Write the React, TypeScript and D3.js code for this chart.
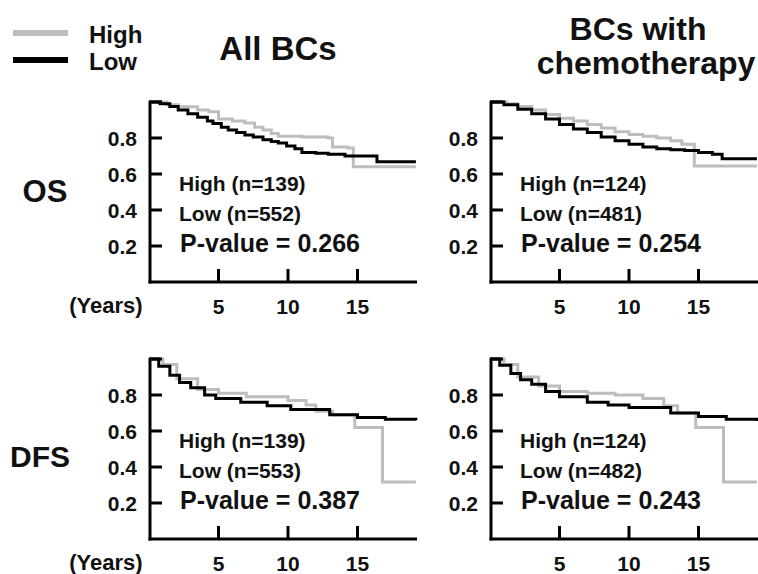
import React from "react";
import * as d3 from "d3";

// ---- data (survival step curves, [years, proportion]) ----
const osAllHigh: [number, number][] = [
  [0, 1], [1.1, 1.0], [1.3, 0.985], [2.1, 0.974], [3.5, 0.955], [4.3, 0.946], [5, 0.905],
  [6, 0.895], [6.9, 0.883], [7.6, 0.86], [8.2, 0.844], [8.8, 0.825], [9.3, 0.81], [11, 0.805],
  [12.9, 0.8], [13.2, 0.75], [14.3, 0.744], [14.7, 0.64], [19.2, 0.64],
];
const osAllLow: [number, number][] = [
  [0, 1], [0.8, 0.99], [1.5, 0.975], [2.1, 0.955], [2.8, 0.935], [3.5, 0.915], [4.2, 0.895],
  [4.6, 0.88], [5.2, 0.86], [5.7, 0.845], [6.3, 0.83], [6.9, 0.817], [7.5, 0.805], [8.2, 0.79],
  [8.8, 0.78], [9.3, 0.772], [9.9, 0.755], [10.5, 0.74], [11, 0.72], [12, 0.715], [12.9, 0.71],
  [14.1, 0.7], [15, 0.7], [16.4, 0.668], [19.2, 0.668],
];
const osChemoHigh: [number, number][] = [
  [0, 1], [1.2, 0.99], [2, 0.975], [3, 0.955], [4, 0.93], [5, 0.91], [6, 0.895], [7, 0.875],
  [8, 0.855], [9, 0.835], [10, 0.82], [11, 0.81], [12, 0.8], [13, 0.785], [13.8, 0.765],
  [14.7, 0.645], [19.2, 0.645],
];
const osChemoLow: [number, number][] = [
  [0, 1], [1, 0.985], [2, 0.96], [3, 0.935], [4, 0.905], [5, 0.875], [6, 0.85], [7, 0.83],
  [8, 0.805], [9, 0.785], [10, 0.765], [11, 0.75], [12, 0.74], [13, 0.735], [14, 0.73],
  [15, 0.72], [16, 0.71], [16.7, 0.685], [19.2, 0.685],
];
const dfsAllHigh: [number, number][] = [
  [0, 1], [1, 0.97], [2, 0.89], [3.5, 0.83], [5, 0.81], [7, 0.79], [10, 0.77], [11.3, 0.745],
  [12, 0.71], [13.2, 0.69], [14.8, 0.62], [16.8, 0.317], [19.2, 0.317],
];
const dfsAllLow: [number, number][] = [
  [0, 1], [0.7, 0.96], [1.5, 0.91], [2.2, 0.87], [3, 0.84], [4, 0.8], [4.8, 0.78], [6.6, 0.76],
  [8.5, 0.74], [10.2, 0.72], [13, 0.69], [15, 0.675], [17, 0.665], [19.2, 0.66],
];
const dfsChemoHigh: [number, number][] = [
  [0, 1], [1, 0.97], [2, 0.9], [3.5, 0.85], [5, 0.82], [7, 0.81], [9, 0.8], [11, 0.78],
  [12.5, 0.74], [13.5, 0.7], [14.8, 0.62], [16.8, 0.317], [19.2, 0.317],
];
const dfsChemoLow: [number, number][] = [
  [0, 1], [0.7, 0.965], [1.5, 0.92], [2.2, 0.885], [3, 0.86], [4, 0.82], [5, 0.79], [7, 0.76],
  [8.5, 0.745], [10, 0.73], [13, 0.7], [15, 0.68], [17, 0.665], [19.2, 0.655],
];

const yearTicks = [5, 10, 15];
const survTicks = [0.2, 0.4, 0.6, 0.8, 1.0];
const survLabels = ["0.2", "0.4", "0.6", "0.8"];
const groupNames = ["High", "Low"];

const panels = [
  { high: osAllHigh, low: osAllLow, nHigh: 139, nLow: 552, p: "0.266", col: 0, row: 0 },
  { high: osChemoHigh, low: osChemoLow, nHigh: 124, nLow: 481, p: "0.254", col: 1, row: 0 },
  { high: dfsAllHigh, low: dfsAllLow, nHigh: 139, nLow: 553, p: "0.387", col: 0, row: 1 },
  { high: dfsChemoHigh, low: dfsChemoLow, nHigh: 124, nLow: 482, p: "0.243", col: 1, row: 1 },
];

const GRAY = "#bdbdbd";
const FONT = "'Liberation Sans', Arial, sans-serif";
const colX0 = [149, 490];
const rowY0 = [282, 539];
const PW = 268;
const PH = 180;

function Panel({ d }: { d: (typeof panels)[number] }) {
  const x0 = colX0[d.col];
  const yb = rowY0[d.row];
  const x = d3.scaleLinear().domain([0, PW / 13.9]).range([x0, x0 + PW]);
  const y = d3.scaleLinear().domain([0, 1]).range([yb, yb - PH]);
  const line = d3
    .line<[number, number]>()
    .x((p) => x(p[0]))
    .y((p) => y(p[1]))
    .curve(d3.curveStepAfter);
  const tx = x0 + 30;
  return (
    <g>
      <path d={line(d.high) || ""} fill="none" stroke={GRAY} strokeWidth={3} />
      <path d={line(d.low) || ""} fill="none" stroke="#000" strokeWidth={3} />
      {/* axes */}
      <line x1={x(0) + 1} x2={x(0) + 1} y1={y(1.0) - 1} y2={yb + 1.5} stroke="#000" strokeWidth={3} />
      <line x1={x(0) - 0.5} x2={x0 + PW} y1={yb} y2={yb} stroke="#000" strokeWidth={3} />
      {survTicks.map((t) => (
        <line key={t} x1={x(0)} x2={x(0) + 13} y1={y(t)} y2={y(t)} stroke="#000" strokeWidth={3} />
      ))}
      {yearTicks.map((t) => (
        <line key={t} x1={x(t)} x2={x(t)} y1={yb} y2={yb - 13} stroke="#000" strokeWidth={3} />
      ))}
      {survLabels.map((s, i) => (
        <text key={s} x={x(0) - 12} y={y(survTicks[i]) + 8} textAnchor="end" fontSize={21} fontWeight="bold">
          {s}
        </text>
      ))}
      {yearTicks.map((t) => (
        <text key={t} x={x(t)} y={yb + 32} textAnchor="middle" fontSize={21} fontWeight="bold">
          {t}
        </text>
      ))}
      <text x={tx} y={yb - 91} fontSize={21} fontWeight="bold">{`${groupNames[0]} (n=${d.nHigh})`}</text>
      <text x={tx} y={yb - 61} fontSize={21} fontWeight="bold">{`${groupNames[1]} (n=${d.nLow})`}</text>
      <text x={tx + 1} y={yb - 30} fontSize={25} fontWeight="bold">{`P-value = ${d.p}`}</text>
    </g>
  );
}

export default function App() {
  return (
    <svg width={758} height={574} style={{ position: "absolute", left: 0, top: 0, background: "#fff" }} fontFamily={FONT} fill="#111">
      {/* legend */}
      <line x1={13} x2={68} y1={33} y2={33} stroke={GRAY} strokeWidth={6} />
      <line x1={13} x2={68} y1={60} y2={60} stroke="#000" strokeWidth={6} />
      <text x={89} y={43} fontSize={24} fontWeight="bold">{groupNames[0]}</text>
      <text x={89} y={70} fontSize={24} fontWeight="bold">{groupNames[1]}</text>
      {/* titles */}
      <text x={278} y={60} textAnchor="middle" fontSize={33} fontWeight="bold">All BCs</text>
      <text x={638} y={40} textAnchor="middle" fontSize={32} fontWeight="bold">BCs with</text>
      <text x={646} y={74} textAnchor="middle" fontSize={32} fontWeight="bold">chemotherapy</text>
      {/* row labels */}
      <text x={45} y={202} textAnchor="middle" fontSize={31} fontWeight="bold">OS</text>
      <text x={40} y={467} textAnchor="middle" fontSize={30} fontWeight="bold">DFS</text>
      <text x={106} y={313} textAnchor="middle" fontSize={22} fontWeight="bold">(Years)</text>
      <text x={106} y={570} textAnchor="middle" fontSize={22} fontWeight="bold">(Years)</text>
      {panels.map((d, i) => (
        <Panel key={i} d={d} />
      ))}
    </svg>
  );
}
